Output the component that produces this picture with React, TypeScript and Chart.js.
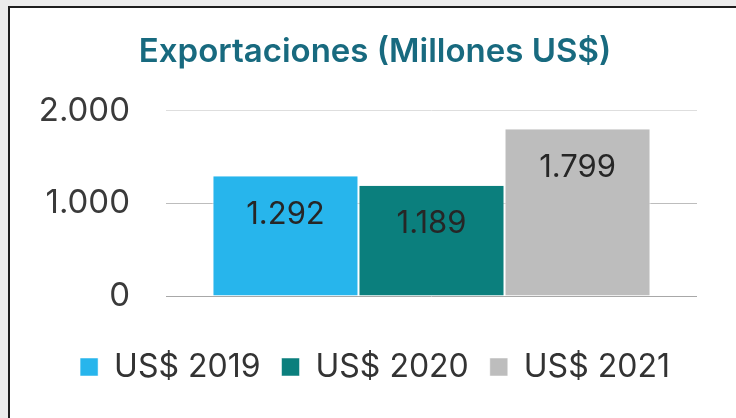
import React, { useEffect, useRef } from "react";
import { Chart, registerables } from "chart.js";

Chart.register(...registerables);

const categories: string[] = [""];
const seriesNames: string[] = ["US$ 2019", "US$ 2020", "US$ 2021"];
const seriesValues: number[][] = [[1292], [1189], [1799]];
const seriesColors: string[] = ["#27b5ec", "#0b7f7d", "#bdbdbd"];
const yTicks: number[] = [0, 1000, 2000];
const titleText = "Exportaciones (Millones US$)";

const fmt = (v: number) => String(v).replace(/\B(?=(\d{3})+(?!\d))/g, ".");

const FONT = "Inter";

const valueLabels = {
  id: "valueLabels",
  afterDatasetsDraw(chart: any) {
    const ctx = chart.ctx;
    ctx.save();
    ctx.font = `400 31px ${FONT}`;
    ctx.fillStyle = "#262626";
    ctx.textAlign = "center";
    ctx.textBaseline = "middle";
    chart.data.datasets.forEach((ds: any, i: number) => {
      const meta = chart.getDatasetMeta(i);
      meta.data.forEach((el: any, j: number) => {
        ctx.fillText(fmt(ds.data[j]), el.x, el.y + 38);
      });
    });
    ctx.restore();
  },
};

export default function App() {
  const ref = useRef<HTMLCanvasElement>(null);
  useEffect(() => {
    if (!ref.current) return;
    const chart = new Chart(ref.current, {
      type: "bar",
      data: {
        labels: categories,
        datasets: seriesNames.map((name, i) => ({
          label: name,
          data: seriesValues[i],
          backgroundColor: seriesColors[i],
          borderColor: "#ffffff",
          borderWidth: { left: 1, right: 1, top: 0, bottom: 0 },
          borderSkipped: false,
          categoryPercentage: 0.825,
          barPercentage: 1,
        })),
      },
      options: {
        responsive: false,
        animation: false,
        layout: { padding: { left: 0, right: 0, top: 0, bottom: 25 } },
        plugins: {
          title: {
            display: true,
            text: titleText,
            color: "#186a7f",
            font: { family: FONT, size: 33, weight: "600", lineHeight: 1.2 },
            padding: { top: 24, bottom: 39 },
          },
          legend: {
            display: true,
            position: "bottom",
            labels: {
              boxWidth: 18,
              boxHeight: 18,
              padding: 21,
              color: "#333333",
              font: { family: FONT, size: 32 },
            },
          },
          tooltip: { enabled: false },
        },
        scales: {
          x: {
            display: true,
            grid: { display: false, drawTicks: false },
            border: { display: false },
            ticks: { display: false },
            afterFit: (s: any) => {
              s.height = 34;
            },
          },
          y: {
            min: 0,
            max: 2000,
            afterFit: (s: any) => {
              s.width = 156;
            },
            afterBuildTicks: (s: any) => {
              s.ticks = yTicks.map((v) => ({ value: v }));
            },
            border: { display: false },
            grid: {
              drawTicks: false,
              lineWidth: 1,
              color: (c: any) =>
                c.tick && c.tick.value === 0
                  ? "#a8a8a8"
                  : c.tick && c.tick.value === 1000
                  ? "#bdbdbd"
                  : "#dedede",
            },
            ticks: {
              padding: 36,
              color: "#3a3a3a",
              font: { family: FONT, size: 33 },
              callback: (v: any) => fmt(Number(v)),
            },
          },
          yRight: {
            position: "right",
            display: true,
            min: 0,
            max: 2000,
            grid: { display: false, drawTicks: false },
            border: { display: false },
            ticks: { display: false },
            afterFit: (s: any) => {
              s.width = 43;
            },
          },
        },
      },
      plugins: [valueLabels],
    });
    return () => chart.destroy();
  }, []);

  return (
    <div
      style={{
        position: "fixed",
        left: 0,
        top: 0,
        width: 736,
        height: 418,
        background: "#ececec",
        overflow: "hidden",
      }}
    >
      <div
        style={{
          position: "absolute",
          left: 8,
          top: 6,
          width: 740,
          height: 420,
          background: "#ffffff",
          borderLeft: "2px solid #1e1e1e",
          borderTop: "2px solid #1e1e1e",
        }}
      >
        <canvas
          ref={ref}
          width={730}
          height={410}
          style={{ position: "absolute", left: 0, top: 0, width: 730, height: 410 }}
        />
      </div>
    </div>
  );
}
